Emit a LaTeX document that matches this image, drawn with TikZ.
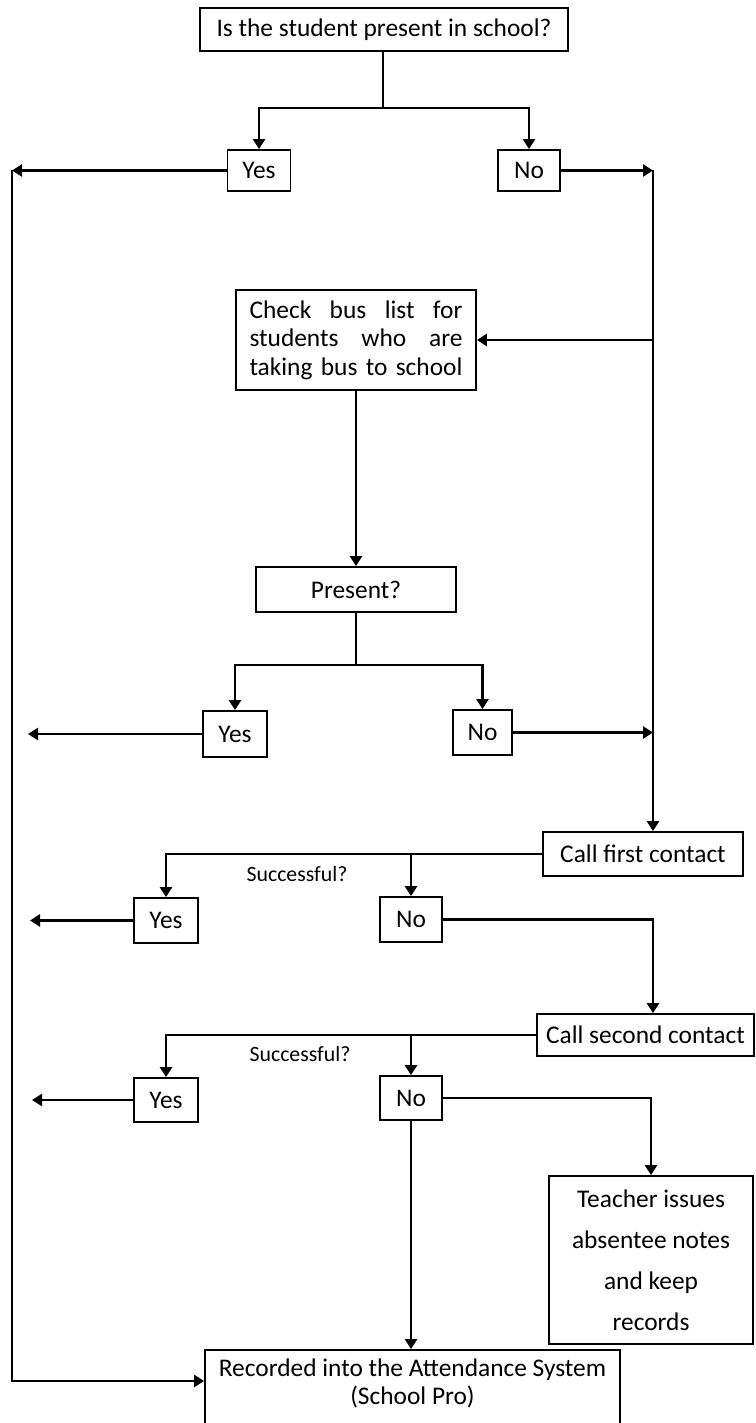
\documentclass[tikz,border=0pt]{standalone}
\usepackage{fontspec}
\setmainfont{Carlito}
\usetikzlibrary{arrows.meta,calc}
\newlength\buslen
\setlength{\buslen}{106.5pt}
\begin{document}
\begin{tikzpicture}[x=0.5pt,y=-0.5pt,
  box/.style={draw, line width=0.9pt, inner sep=0pt, align=center, font=\fontsize{12.7}{14.3}\selectfont},
  arr/.style={line width=1.2pt, -{Triangle[length=5pt,width=6pt]}},
  ln/.style={line width=1.2pt},
  lbl/.style={font=\fontsize{10.9}{13}\selectfont, inner sep=0pt}]
\useasboundingbox (0,0) rectangle (755,1423);
% nodes
\node[box, minimum width=184pt, minimum height=21.5pt] (q) at (384,29.5) {Is the student present in school?};
\node[box, minimum width=31.5pt, minimum height=20.5pt] (y1) at (259,170.5) {Yes};
\node[box, minimum width=31pt, minimum height=20.5pt] (n1) at (529,170.5) {No};
\node[box, minimum width=120pt, minimum height=50pt] (bus) at (356,340) {\makebox[\buslen][s]{Check bus list for}\\\makebox[\buslen][s]{students who are}\\\makebox[\buslen][s]{taking bus to school}};
\node[box, minimum width=100pt, minimum height=22.5pt] (pres) at (356,589.5) {Present?};
\node[box, minimum width=32pt, minimum height=23pt] (y2) at (235,734) {Yes};
\node[box, minimum width=29.5pt, minimum height=22.5pt] (n2) at (482.5,732.5) {No};
\node[box, minimum width=100pt, minimum height=22pt] (c1) at (643,854) {Call first contact};
\node[box, minimum width=32pt, minimum height=22.5pt] (y3) at (166,920.5) {Yes};
\node[box, minimum width=31pt, minimum height=22.5pt] (n3) at (411,919.5) {No};
\node[box, minimum width=108.5pt, minimum height=21pt] (c2) at (645.5,1035) {Call second contact};
\node[box, minimum width=32pt, minimum height=22pt] (y4) at (166,1100) {Yes};
\node[box, minimum width=31pt, minimum height=22pt] (n4) at (411,1098) {No};
\node[box, minimum width=102pt, minimum height=84pt, font=\fontsize{12.7}{20.5}\selectfont] (t) at (651,1260) {Teacher issues\\absentee notes\\and keep\\records};
\node[box, minimum width=207.5pt, minimum height=41pt] (rec) at (412.5,1391) {Recorded into the Attendance System\\(School Pro)\\[-5pt]\mbox{}};
\node[lbl] (s1) at (297,874) {Successful?};
\node[lbl] (s2) at (300,1054) {Successful?};
% coordinates
\coordinate (j1) at (383,108);
\coordinate (yl1) at (12,170.5);
\coordinate (nr1) at (653,170.5);
\coordinate (bl) at (12,1381);
\coordinate (j2) at (356,665);
\coordinate (yl2) at (28,734);
\coordinate (yl3) at (30,920.5);
\coordinate (yl4) at (32,1100);
% connectors
\draw[ln] (q.south -| j1) -- (j1);
\draw[arr] (j1) -| (y1.north);
\draw[arr] (j1) -| (n1.north);
\draw[arr] (y1.west) -- (yl1);
\draw[arr] (yl1) -- (bl) -- (bl -| rec.west);
\draw[arr] (n1.east) -- (nr1);
\draw[arr] (nr1) -- (nr1 |- c1.north);
\draw[arr] (nr1 |- bus.east) -- (bus.east);
\draw[arr] (bus.south) -- (pres.north);
\draw[ln] (pres.south) -- (j2);
\draw[arr] (j2) -| (y2.north);
\draw[arr] (j2) -| (n2.north);
\draw[arr] (y2.west) -- (yl2);
\draw[arr] (n2.east) -- (n2.east -| nr1);
\draw[arr] (c1.west) -| (y3.north);
\draw[arr] (c1.west -| n3.north) -- (n3.north);
\draw[arr] (y3.west) -- (yl3);
\draw[arr] (n3.east) -| (nr1 |- c2.north);
\draw[arr] (c2.west) -| (y4.north);
\draw[arr] (c2.west -| n4.north) -- (n4.north);
\draw[arr] (y4.west) -- (yl4);
\draw[arr] (n4.east) -| (t.north);
\draw[arr] (n4.south) -- (n4.south |- rec.north);
\end{tikzpicture}
\end{document}
